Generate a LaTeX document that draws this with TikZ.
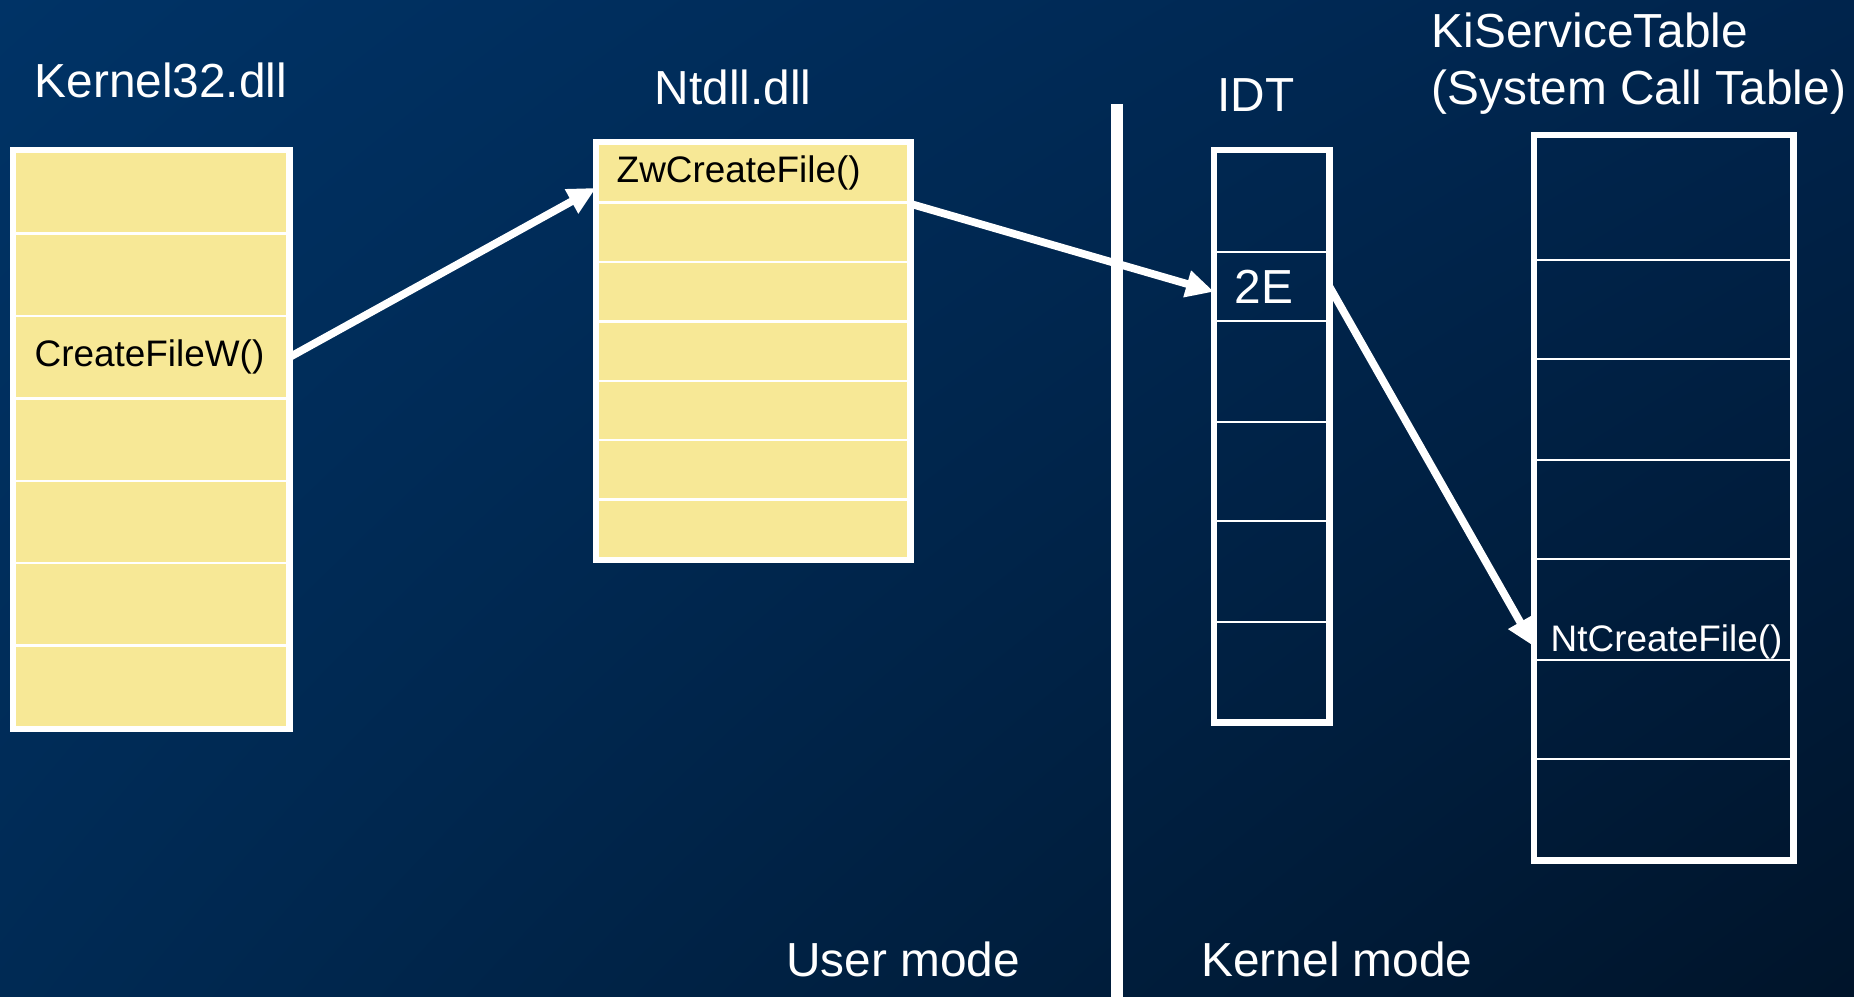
\documentclass[tikz,border=0pt]{standalone}
\usepackage{fontspec}
\setmainfont{Liberation Sans}
\usetikzlibrary{arrows.meta,positioning,shadings}
\definecolor{bgtl}{RGB}{0,51,102}
\definecolor{bgtr}{RGB}{0,36,76}
\definecolor{bgbl}{RGB}{0,42,84}
\definecolor{bgbr}{RGB}{0,20,42}
\definecolor{dllyellow}{RGB}{247,232,150}
\tikzset{
  cell/.style={draw=white, line width=0.7pt, rectangle, inner sep=0pt, anchor=north west},
  ucell/.style={cell, fill=dllyellow},
  frame/.style={draw=white, line width=1.8pt},
  call/.style={draw=white, line width=2.2pt, -{Triangle[length=0.28cm,width=0.26cm]}},
  head/.style={text=white, font=\fontsize{13.6}{16.3}\selectfont, inner sep=0pt},
  fn/.style={font=\fontsize{10.5}{12.6}\selectfont, inner sep=0pt},
}
\begin{document}
\begin{tikzpicture}
% background
\shade[upper left=bgtl, upper right=bgtr, lower left=bgbl, lower right=bgbr] (0,0) rectangle (18.54,9.97);
\useasboundingbox (0,0) rectangle (18.54,9.97);

% user / kernel border
\draw[white, line width=3.4pt] (11.17,8.93) -- (11.17,0);

% Kernel32.dll
\node[head, anchor=west] (kname) at (0.34,9.17) {Kernel32.dll};
\foreach \i in {1,...,7}
  \node[ucell, minimum width=2.74cm, minimum height=0.824cm] (k\i) at (0.13,{8.47-(\i-1)*0.824}) {};
\draw[frame] (k1.north west) rectangle (k7.south east);
\node[fn, anchor=west] (cfw) at ([xshift=0.21cm]k3.west) {CreateFileW()};

% Ntdll.dll
\node[head] (nname) at (7.33,9.10) {Ntdll.dll};
\foreach \i in {1,...,7}
  \node[ucell, minimum width=3.12cm, minimum height=0.594cm] (n\i) at (5.96,{8.55-(\i-1)*0.594}) {};
\draw[frame] (n1.north west) rectangle (n7.south east);
\node[fn, anchor=west] (zwc) at ([xshift=0.2cm]n1.west) {ZwCreateFile()};

% IDT
\node[head] (iname) at (12.56,9.02) {IDT};
\foreach \i/\t/\h in {1/8.47/1.01, 2/7.46/0.69, 3/6.77/1.01, 4/5.76/0.99, 5/4.77/1.01, 6/3.76/0.99}
  \node[cell, minimum width=1.13cm, minimum height=\h cm] (i\i) at (12.14,\t) {};
\draw[frame] (i1.north west) rectangle (i6.south east);
\node[head, xshift=-0.08cm] (vec) at (i2) {2E};

% KiServiceTable
\node[head, anchor=west, align=left] (sname) at (14.31,9.33) {KiServiceTable\\(System Call Table)};
\foreach \i/\t/\h in {1/8.62/1.24, 2/7.38/0.99, 3/6.39/1.01, 4/5.38/0.99, 5/4.39/1.01, 6/3.38/0.99, 7/2.39/1.0}
  \node[cell, minimum width=2.57cm, minimum height=\h cm] (s\i) at (15.34,\t) {};
\draw[frame] (s1.north west) rectangle (s7.south east);
\node[fn, text=white, anchor=base west] (ntc) at ([xshift=0.16cm,yshift=0.1cm]s5.south west) {NtCreateFile()};

% modes
\node[head] (umode) at (9.03,0.38) {User mode};
\node[head] (kmode) at (13.37,0.38) {Kernel mode};

% calls
\draw[call] (k3.east) -- ([yshift=-0.15cm]n1.west);
\draw[call] (n1.south east) -- ([yshift=-0.05cm]i2.west);
\draw[call] (i2.east) -- ([yshift=0.15cm]s5.south west);
\end{tikzpicture}
\end{document}
